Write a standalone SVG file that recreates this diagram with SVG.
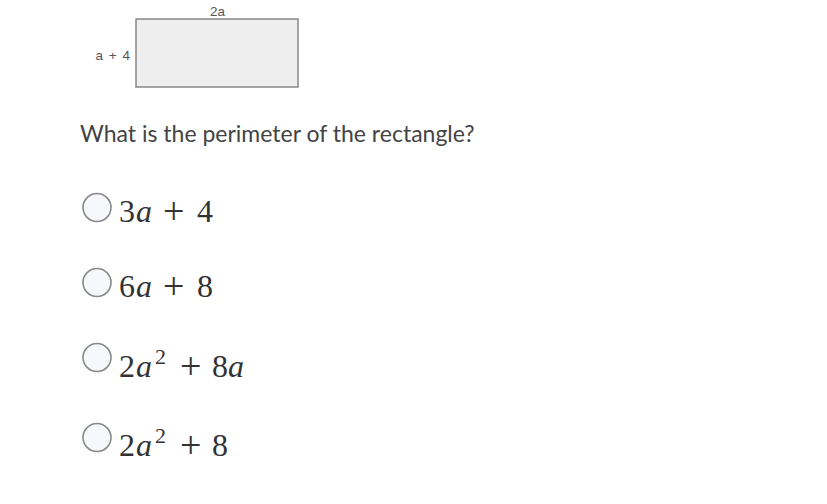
<svg xmlns="http://www.w3.org/2000/svg" width="827" height="504" viewBox="0 0 827 504">
<style>
.lbl{font-family:"Liberation Sans",Arial,sans-serif;font-size:13.5px;fill:#555}
.q{font-family:Lato,"Liberation Sans",sans-serif;font-size:23px;fill:#444}
.m{font-family:"Liberation Serif","Times New Roman",serif;font-size:32px;fill:#333}
.i{font-style:italic}
.sup{font-size:22px}
.pl{font-size:38px}
.rb{fill:#f7f8fc;stroke:#888;stroke-width:1.6}
</style>
<rect width="827" height="504" fill="#fff"/>
<g id="rectangle">
<rect x="136" y="19" width="162" height="68" fill="#eeeeee" stroke="#888" stroke-width="1.5"/>
<text class="lbl" x="217.5" y="16" text-anchor="middle">2a</text>
<text class="lbl" x="131" y="60" text-anchor="end" letter-spacing="1">a + 4</text>
</g>
<g id="question">
<text class="q" x="80" y="142">What is the perimeter of the rectangle?</text>
</g>
<g id="opt1">
<circle class="rb" cx="97" cy="207.5" r="14"/>
<text class="m" y="222"><tspan x="119">3</tspan><tspan class="i" x="136">a</tspan><tspan class="pl" x="163" dy="2">+</tspan><tspan x="197" dy="-2">4</tspan></text>
</g>
<g id="opt2">
<circle class="rb" cx="97" cy="282.5" r="14"/>
<text class="m" y="297"><tspan x="119">6</tspan><tspan class="i" x="136">a</tspan><tspan class="pl" x="163" dy="2">+</tspan><tspan x="197" dy="-2">8</tspan></text>
</g>
<g id="opt3">
<circle class="rb" cx="97" cy="357.5" r="14"/>
<text class="m" y="377"><tspan x="119">2</tspan><tspan class="i" x="136">a</tspan><tspan class="sup" x="155" dy="-13">2</tspan><tspan class="pl" x="180" dy="15">+</tspan><tspan x="212" dy="-2">8</tspan><tspan class="i" x="228">a</tspan></text>
</g>
<g id="opt4">
<circle class="rb" cx="97" cy="437.5" r="14"/>
<text class="m" y="456"><tspan x="119">2</tspan><tspan class="i" x="136">a</tspan><tspan class="sup" x="155" dy="-13">2</tspan><tspan class="pl" x="180" dy="15">+</tspan><tspan x="212" dy="-2">8</tspan></text>
</g>
</svg>
